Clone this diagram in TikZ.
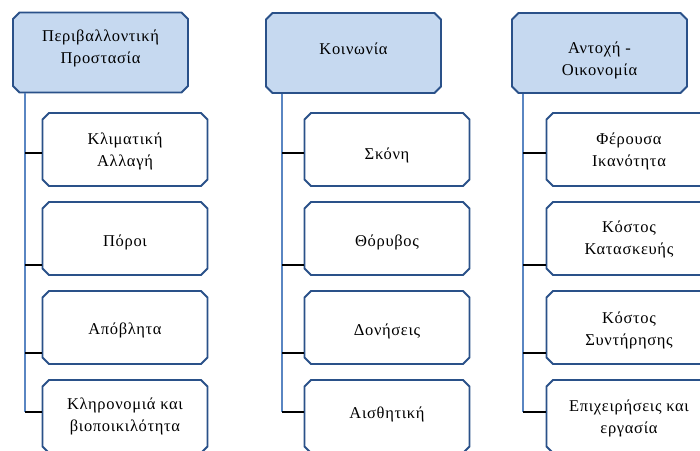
\documentclass[tikz,border=0pt]{standalone}
\usepackage{fontspec}
\setmainfont{Liberation Serif}[LetterSpace=4]
\usetikzlibrary{shapes.misc}
\definecolor{hfill}{HTML}{C6D9F0}
\definecolor{bdr}{HTML}{2A5189}
\definecolor{vl}{HTML}{5A86C2}
% #1 = raise, #2 = text (rows separated by \\)
\newcommand{\tx}[2]{\smash{\raisebox{#1pt}{\begin{tabular}{@{}c@{}}#2\end{tabular}}}}
\begin{document}
\begin{tikzpicture}[x=1pt,y=-1pt,
  box/.style={chamfered rectangle, chamfered rectangle xsep=6.5pt, chamfered rectangle ysep=6.5pt,
    draw=bdr, line width=1.8pt, inner sep=0pt,
    font=\fontsize{16.5}{22}\selectfont, text=black},
  head/.style={box, fill=hfill, minimum width=175pt, minimum height=80pt},
  child/.style={box, fill=white, minimum width=165pt, minimum height=73pt},
  vline/.style={draw=vl, line width=2.2pt},
  tick/.style={draw=black, line width=1.6pt}]
\useasboundingbox (0,0) rectangle (700,450);
\clip (0,0) rectangle (700,450);

% heads
\node[head] (h1) at (100.5,52.5) {\tx{0}{Περιβαλλοντική\\Προστασία}};
\node[head] (h2) at (353.5,53) {\tx{-1}{Κοινωνία}};
\node[head] (h3) at (599.5,53) {\tx{-11.5}{Αντοχή -\\Οικονομία}};

% trunk end points
\coordinate (e1) at (25,412);
\coordinate (e2) at (282,412);
\coordinate (e3) at (523,412);

\draw[vline] (h1.south -| e1) -- (e1);
\draw[vline] (h2.south -| e2) -- (e2);
\draw[vline] (h3.south -| e3) -- (e3);

% children column 1
\node[child] (a1) at (125,149.5) {\tx{-6}{Κλιματική\\Αλλαγή}};
\node[child] (a2) at (125,238.5) {\tx{-7.5}{Πόροι}};
\node[child] (a3) at (125,327.5) {\tx{-6.5}{Απόβλητα}};
\node[child] (a4) at (125,416.5) {\tx{-3.5}{Κληρονομιά και\\βιοποικιλότητα}};
% column 2
\node[child] (b1) at (387,149.5) {\tx{-9.5}{Σκόνη}};
\node[child] (b2) at (387,238.5) {\tx{-7.5}{Θόρυβος}};
\node[child] (b3) at (387,327.5) {\tx{-7.5}{Δονήσεις}};
\node[child] (b4) at (387,416.5) {\tx{-1.5}{Αισθητική}};
% column 3
\node[child] (c1) at (629,149.5) {\tx{-5.5}{Φέρουσα\\Ικανότητα}};
\node[child] (c2) at (629,238.5) {\tx{-5}{Κόστος\\Κατασκευής}};
\node[child] (c3) at (629,327.5) {\tx{-7}{Κόστος\\Συντήρησης}};
\node[child] (c4) at (629,416.5) {\tx{-6}{Επιχειρήσεις και\\εργασία}};

% tick connectors
\foreach \col/\e in {a/e1,b/e2,c/e3}{
  \draw[tick] (\e |- 0,153) -- (\col1.west |- 0,153);
  \draw[tick] (\e |- 0,265) -- (\col2.west |- 0,265);
  \draw[tick] (\e |- 0,353) -- (\col3.west |- 0,353);
  \draw[tick] (\e) -- (\col4.west |- \e);
}
\end{tikzpicture}
\end{document}
